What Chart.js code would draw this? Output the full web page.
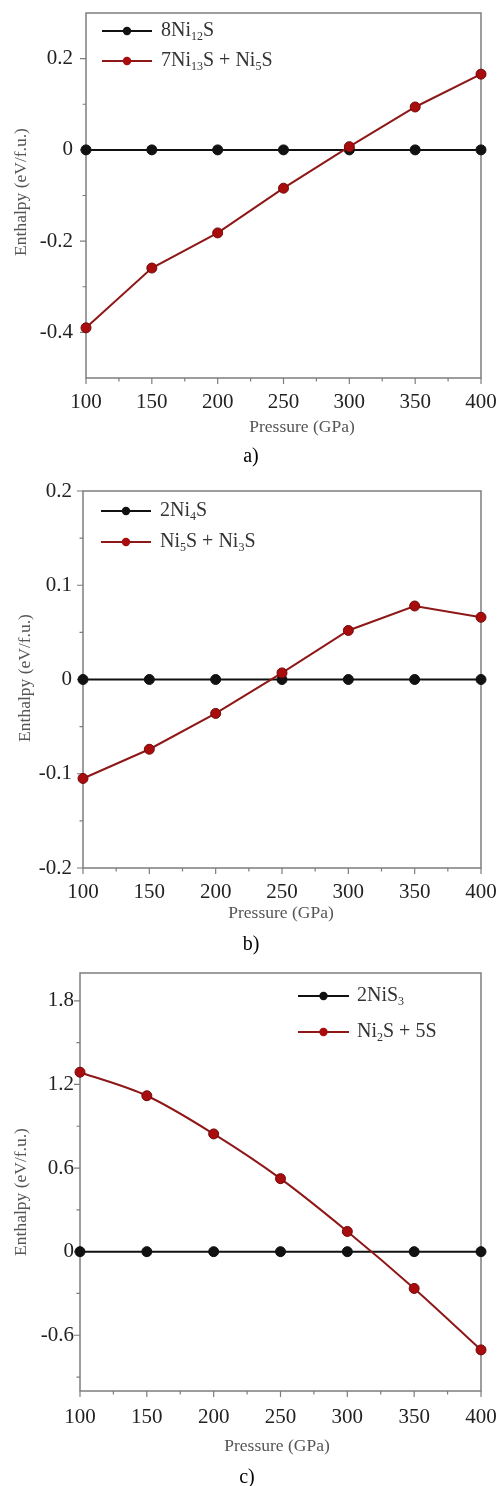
<!DOCTYPE html>
<html>
<head>
<meta charset="utf-8">
<title>Enthalpy vs pressure</title>
<script src="https://cdn.jsdelivr.net/npm/chart.js@4.4.0/dist/chart.umd.min.js"></script>
<style>
  html, body { margin: 0; padding: 0; background: #fff; }
  #page { position: relative; width: 499px; height: 1486px; overflow: hidden; }
  .panel { position: absolute; left: 0; width: 499px; }
  canvas { display: block; }
</style>
</head>
<body>
<div id="page">
  <div class="panel" style="top:0;height:478px"><canvas id="chartA" width="499" height="478"></canvas></div>
  <div class="panel" style="top:478px;height:482px"><canvas id="chartB" width="499" height="482"></canvas></div>
  <div class="panel" style="top:960px;height:526px"><canvas id="chartC" width="499" height="526"></canvas></div>
</div>
<script>
// ---- data ----
const pressure = [100, 150, 200, 250, 300, 350, 400];        // GPa
const xMajorTicks = [100, 150, 200, 250, 300, 350, 400];
const xMinorTicks = [125, 175, 225, 275, 325, 375];

// a) 8Ni12S reference vs 7Ni13S + Ni5S
const labelsA = ['8Ni₁₂S', '7Ni₁₃S + Ni₅S'];
const refA = [0, 0, 0, 0, 0, 0, 0];
const mixA = [-0.390, -0.259, -0.182, -0.084, 0.007, 0.094, 0.166];
const yMajorA = [-0.4, -0.2, 0, 0.2];
const yMinorA = [-0.3, -0.1, 0.1];

// b) 2Ni4S reference vs Ni5S + Ni3S
const labelsB = ['2Ni₄S', 'Ni₅S + Ni₃S'];
const refB = [0, 0, 0, 0, 0, 0, 0];
const mixB = [-0.105, -0.074, -0.036, 0.007, 0.052, 0.078, 0.066];
const yMajorB = [-0.2, -0.1, 0, 0.1, 0.2];
const yMinorB = [-0.15, -0.05, 0.05, 0.15];

// c) 2NiS3 reference vs Ni2S + 5S
const labelsC = ['2NiS₃', 'Ni₂S + 5S'];
const refC = [0, 0, 0, 0, 0, 0, 0];
const mixC = [1.288, 1.119, 0.845, 0.524, 0.145, -0.264, -0.705];
const yMajorC = [-0.6, 0, 0.6, 1.2, 1.8];
const yMinorC = [-0.9, -0.3, 0.3, 0.9, 1.5];

// ---- styling ----
const SERIF = '"Liberation Serif", "Times New Roman", serif';
const FRAME = '#7d7d7d';
const BLACK = '#111111';
const RED_LINE = '#8e1717';
const RED_FILL = '#a80c0c';
const RED_EDGE = '#720808';

const SUBS = '₀₁₂₃₄₅₆₇₈₉';

// draws a string, rendering unicode subscript digits as small lowered digits
function drawRich(ctx, text, x, y, size, color) {
  ctx.save();
  ctx.fillStyle = color;
  ctx.textAlign = 'left';
  ctx.textBaseline = 'middle';
  let cx = x;
  for (const ch of text) {
    const idx = SUBS.indexOf(ch);
    if (idx >= 0) {
      ctx.font = Math.round(size * 0.6) + 'px ' + SERIF;
      const s = String(idx);
      ctx.fillText(s, cx, y + size * 0.27);
      cx += ctx.measureText(s).width;
    } else {
      ctx.font = size + 'px ' + SERIF;
      ctx.fillText(ch, cx, y);
      cx += ctx.measureText(ch).width;
    }
  }
  ctx.restore();
}

// frame, tick marks, titles, legend and caption for one panel
const panelDecor = {
  id: 'panelDecor',
  beforeDatasetsDraw(chart, args, o) {
    const { ctx, chartArea: a, scales } = chart;
    ctx.save();
    ctx.strokeStyle = FRAME;
    ctx.lineWidth = 1.5;
    ctx.strokeRect(a.left, a.top, a.right - a.left, a.bottom - a.top);
    ctx.lineWidth = 1.2;
    ctx.beginPath();
    for (const t of scales.y.ticks) {
      const y = scales.y.getPixelForValue(t.value);
      const len = o.yMajor.includes(t.value) ? 6 : 3.5;
      ctx.moveTo(a.left - len, y);
      ctx.lineTo(a.left, y);
    }
    for (const t of scales.x.ticks) {
      const x = scales.x.getPixelForValue(t.value);
      const len = xMajorTicks.includes(t.value) ? 6 : 3.5;
      ctx.moveTo(x, a.bottom);
      ctx.lineTo(x, a.bottom + len);
    }
    ctx.stroke();
    ctx.restore();
  },
  afterDraw(chart, args, o) {
    const { ctx } = chart;
    ctx.save();
    // axis titles
    ctx.fillStyle = '#555';
    ctx.font = '17.5px ' + SERIF;
    ctx.textAlign = 'center';
    ctx.textBaseline = 'middle';
    ctx.fillText('Pressure (GPa)', o.xTitle[0], o.xTitle[1]);
    ctx.save();
    ctx.translate(o.yTitle[0], o.yTitle[1]);
    ctx.rotate(-Math.PI / 2);
    ctx.fillText('Enthalpy (eV/f.u.)', 0, 0);
    ctx.restore();
    // caption
    ctx.fillStyle = '#000';
    ctx.font = '20px ' + SERIF;
    ctx.fillText(o.caption, o.capPos[0], o.capPos[1]);
    // legend
    const L = o.legend;
    chart.data.datasets.forEach((ds, i) => {
      const y = L.rows[i];
      ctx.strokeStyle = ds.borderColor;
      ctx.lineWidth = 2;
      ctx.beginPath();
      ctx.moveTo(L.x0, y);
      ctx.lineTo(L.x1, y);
      ctx.stroke();
      ctx.beginPath();
      ctx.arc((L.x0 + L.x1) / 2, y, 4.2, 0, Math.PI * 2);
      ctx.fillStyle = ds.pointBackgroundColor;
      ctx.fill();
      drawRich(ctx, ds.label, L.tx, y, 20, '#333');
    });
    ctx.restore();
  }
};

function fmt(v) { return v === 0 ? '0' : String(v); }

function makePanel(id, cfg) {
  const canvas = document.getElementById(id);
  const H = canvas.height;
  const yTicks = [...cfg.yMajor, ...cfg.yMinor].sort((p, q) => p - q);
  const xTicks = [...xMajorTicks, ...xMinorTicks].sort((p, q) => p - q);
  return new Chart(canvas, {
    type: 'line',
    data: {
      labels: pressure,
      datasets: [
        {
          label: cfg.labels[0],
          data: pressure.map((p, i) => ({ x: p, y: cfg.ref[i] })),
          borderColor: BLACK, borderWidth: 2,
          pointBackgroundColor: BLACK, pointBorderColor: BLACK,
          pointRadius: 5, pointBorderWidth: 1,
          tension: 0, clip: false, order: 1
        },
        {
          label: cfg.labels[1],
          data: pressure.map((p, i) => ({ x: p, y: cfg.mix[i] })),
          borderColor: RED_LINE, borderWidth: 2,
          pointBackgroundColor: RED_FILL, pointBorderColor: RED_EDGE,
          pointRadius: 5, pointBorderWidth: 1,
          cubicInterpolationMode: cfg.smooth ? 'monotone' : 'default',
          tension: 0, clip: false, order: 0
        }
      ]
    },
    options: {
      responsive: false,
      animation: false,
      events: [],
      layout: { padding: { left: 0, top: cfg.area.top, right: 499 - cfg.area.right, bottom: 0 } },
      plugins: {
        legend: { display: false },
        tooltip: { enabled: false },
        panelDecor: {
          yMajor: cfg.yMajor,
          xTitle: cfg.xTitle, yTitle: cfg.yTitle,
          caption: cfg.caption, capPos: cfg.capPos,
          legend: cfg.legend
        }
      },
      scales: {
        x: {
          type: 'linear', min: 100, max: 400,
          grid: { display: false, drawTicks: false },
          border: { display: false },
          afterBuildTicks: s => { s.ticks = xTicks.map(v => ({ value: v })); },
          afterFit: s => { s.height = H - cfg.area.bottom; s.paddingLeft = 0; s.paddingRight = 0; },
          ticks: {
            autoSkip: false, maxRotation: 0, padding: cfg.xPad,
            color: '#222', font: { family: SERIF, size: 21 },
            callback: v => xMajorTicks.includes(v) ? String(v) : ''
          }
        },
        y: {
          type: 'linear', min: cfg.yMin, max: cfg.yMax,
          grid: { display: false, drawTicks: false },
          border: { display: false },
          afterBuildTicks: s => { s.ticks = yTicks.map(v => ({ value: v })); },
          afterFit: s => { s.width = cfg.area.left; s.paddingTop = 0; s.paddingBottom = 0; },
          ticks: {
            autoSkip: false, padding: cfg.yPad,
            color: '#222', font: { family: SERIF, size: 21 },
            callback: v => cfg.yMajor.includes(v) ? fmt(v) : ''
          }
        }
      }
    },
    plugins: [panelDecor]
  });
}

makePanel('chartA', {
  labels: labelsA, ref: refA, mix: mixA,
  yMin: -0.5, yMax: 0.3, yMajor: yMajorA, yMinor: yMinorA,
  area: { left: 86, right: 481, top: 13, bottom: 378 },
  xPad: 12, yPad: 13,
  xTitle: [302, 427], yTitle: [21, 192],
  caption: 'a)', capPos: [251, 457],
  legend: { x0: 102, x1: 152, tx: 161, rows: [31, 61] }
});

makePanel('chartB', {
  labels: labelsB, ref: refB, mix: mixB,
  yMin: -0.2, yMax: 0.2, yMajor: yMajorB, yMinor: yMinorB,
  area: { left: 83, right: 481, top: 13, bottom: 390 },
  xPad: 12, yPad: 11,
  xTitle: [281, 435], yTitle: [25, 200],
  caption: 'b)', capPos: [251, 467],
  legend: { x0: 101, x1: 151, tx: 160, rows: [33, 64] }
});

makePanel('chartC', {
  labels: labelsC, ref: refC, mix: mixC, smooth: true,
  yMin: -1.0, yMax: 2.0, yMajor: yMajorC, yMinor: yMinorC,
  area: { left: 80, right: 481, top: 13, bottom: 431 },
  xPad: 14, yPad: 6,
  xTitle: [277, 486], yTitle: [21, 232],
  caption: 'c)', capPos: [247, 518],
  legend: { x0: 298, x1: 349, tx: 357, rows: [36, 72] }
});
</script>
</body>
</html>
